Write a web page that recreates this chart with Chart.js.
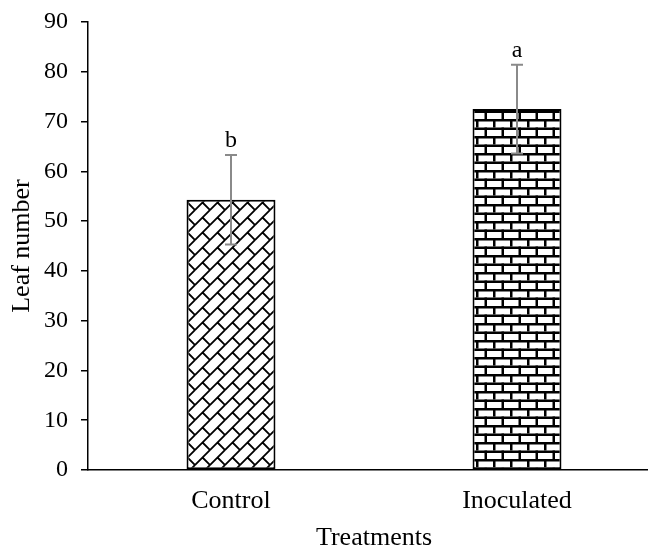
<!DOCTYPE html>
<html>
<head>
<meta charset="utf-8">
<script src="https://cdn.jsdelivr.net/npm/chart.js@4"></script>
<style>
  html, body { margin: 0; padding: 0; background: #fff; overflow: hidden; }
  #wrap { width: 648px; height: 549px; overflow: hidden; }
</style>
</head>
<body>
<div id="wrap"><canvas id="grafico" width="660" height="549"></canvas></div>
<script>
// datos
const tratamientos = ['Control', 'Inoculated'];
const promedios = [54.3, 72.5];
const errores = [9.0, 8.9];
const letras = ['b', 'a'];
const marcasY = [0, 10, 20, 30, 40, 50, 60, 70, 80, 90];

const fuente = '"Liberation Serif", "Times New Roman", serif';

// patron "ladrillo diagonal" para Control
function ladrilloDiagonal() {
  const T = 15;
  const c = document.createElement('canvas');
  c.width = T; c.height = T;
  const g = c.getContext('2d');
  g.fillStyle = '#fff';
  g.fillRect(0, 0, T, T);
  g.strokeStyle = '#000';
  g.lineWidth = 1.8;
  for (let dx = -T; dx <= T; dx += T) {
    for (let dy = -T; dy <= T; dy += T) {
      g.beginPath();
      g.moveTo(dx, dy + T); g.lineTo(dx + T, dy);
      g.moveTo(dx + T / 2, dy + T / 2); g.lineTo(dx + T, dy + T);
      g.stroke();
    }
  }
  return g.createPattern(c, 'repeat');
}

// patron "ladrillo horizontal" para Inoculated
function ladrilloHorizontal() {
  const W = 17, H = 17;
  const c = document.createElement('canvas');
  c.width = W; c.height = H;
  const g = c.getContext('2d');
  g.fillStyle = '#fff';
  g.fillRect(0, 0, W, H);
  g.fillStyle = '#000';
  g.fillRect(0, 0, W, 2.5);
  g.fillRect(0, H / 2, W, 2.5);
  g.fillRect(0, 0, 2.5, H / 2);
  g.fillRect(W / 2, H / 2, 2.5, H / 2);
  return g.createPattern(c, 'repeat');
}

// barras de error y letras encima
const barrasError = {
  id: 'barrasError',
  afterDatasetsDraw(chart) {
    const ctx = chart.ctx;
    const y = chart.scales.y;
    const meta = chart.getDatasetMeta(0);
    ctx.save();
    meta.data.forEach((bar, i) => {
      const x = bar.x;
      const arriba = y.getPixelForValue(promedios[i] + errores[i]);
      const abajo = y.getPixelForValue(promedios[i] - errores[i]);
      ctx.strokeStyle = '#8a8a8a';
      ctx.lineWidth = 2;
      ctx.beginPath();
      ctx.moveTo(x, arriba); ctx.lineTo(x, abajo);
      ctx.moveTo(x - 6, arriba); ctx.lineTo(x + 6, arriba);
      ctx.moveTo(x - 6, abajo); ctx.lineTo(x + 6, abajo);
      ctx.stroke();
      ctx.fillStyle = '#000';
      ctx.font = '24px ' + fuente;
      ctx.textAlign = 'center';
      ctx.textBaseline = 'alphabetic';
      ctx.fillText(letras[i], x, arriba - 8);
    });
    ctx.restore();
  }
};

const canvas = document.getElementById('grafico');
const ctx = canvas.getContext('2d');

new Chart(ctx, {
  type: 'bar',
  data: {
    labels: tratamientos,
    datasets: [{
      data: promedios,
      backgroundColor: [ladrilloDiagonal(), ladrilloHorizontal()],
      borderColor: '#000',
      borderWidth: 2,
      borderSkipped: false,
      barPercentage: 0.311,
      categoryPercentage: 1
    }]
  },
  options: {
    responsive: false,
    animation: false,
    devicePixelRatio: 1,
    layout: { padding: { top: 22, right: 0, bottom: 0, left: 0 } },
    plugins: { legend: { display: false }, tooltip: { enabled: false } },
    scales: {
      x: {
        grid: { display: false, drawTicks: false },
        border: { display: true, color: '#000', width: 1.5 },
        ticks: { color: '#000', padding: 16, font: { family: fuente, size: 26 } },
        title: {
          display: true, text: 'Treatments', color: '#000',
          font: { family: fuente, size: 26 }, padding: { top: 0, bottom: -5 }
        },
        afterFit(scale) { scale.height = 79; scale.paddingLeft = 0; scale.paddingRight = 0; }
      },
      y: {
        min: 0, max: 90,
        afterBuildTicks(scale) { scale.ticks = marcasY.map(v => ({ value: v })); },
        grid: { display: true, drawOnChartArea: false, drawTicks: true, tickLength: 7, color: '#000', lineWidth: 1.5 },
        border: { display: true, color: '#000', width: 1.5 },
        ticks: { color: '#000', padding: 13, font: { family: fuente, size: 24 } },
        title: {
          display: true, text: 'Leaf number', color: '#000',
          font: { family: fuente, size: 26 }, padding: { top: 7, bottom: 0 }
        },
        afterFit(scale) { scale.width = 88; scale.paddingTop = 0; scale.paddingBottom = 0; }
      }
    }
  },
  plugins: [barrasError]
});
</script>
</body>
</html>
